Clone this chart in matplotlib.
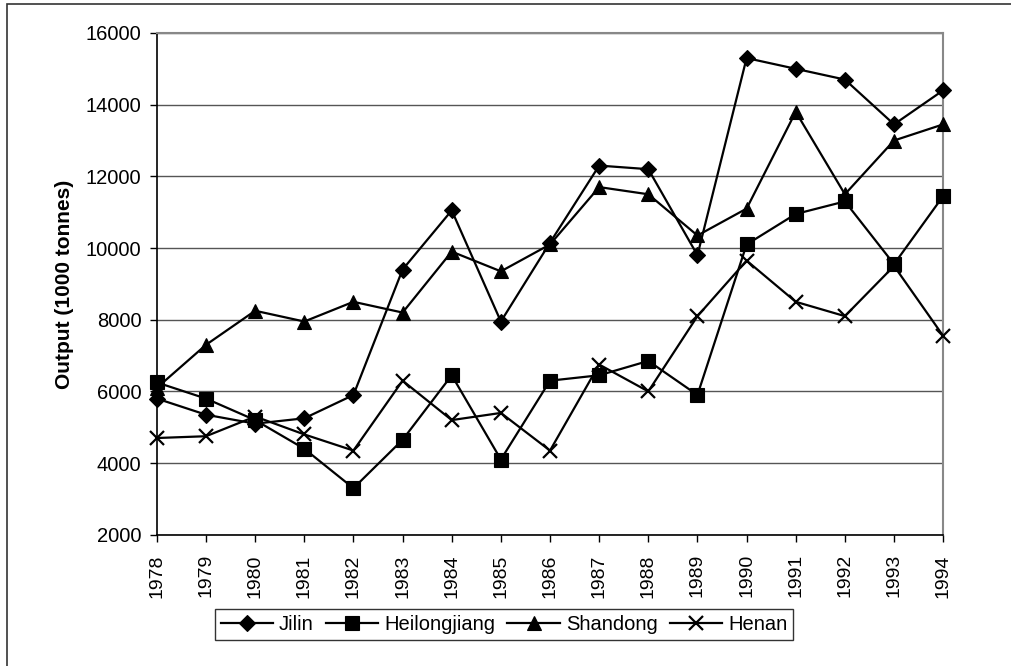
from matplotlib import pyplot as plt
from matplotlib.patches import Rectangle

plt.rcParams['font.family'] = ['Liberation Sans', 'DejaVu Sans']

years = list(range(1978, 1995))
jilin = [5800, 5350, 5100, 5250, 5900, 9400, 11050, 7950, 10150,
         12300, 12200, 9800, 15300, 15000, 14700, 13450, 14400]
heilongjiang = [6250, 5800, 5200, 4400, 3300, 4650, 6450, 4100, 6300,
                6450, 6850, 5900, 10100, 10950, 11300, 9550, 11450]
shandong = [6100, 7300, 8250, 7950, 8500, 8200, 9900, 9350, 10100,
            11700, 11500, 10350, 11100, 13800, 11500, 13000, 13450]
henan = [4700, 4750, 5300, 4800, 4350, 6300, 5200, 5400, 4350,
         6750, 6000, 8100, 9650, 8500, 8100, 9500, 7550]

fig = plt.figure(figsize=(10.12, 6.66), dpi=100)
ax = fig.add_axes([0.155, 0.197, 0.777, 0.7535])

# outer chart border (clipped on right/bottom like the original)
fig.patches.append(Rectangle((7 / 1012, -0.1), 1.2, (666 - 4) / 666 + 0.1,
                             transform=fig.transFigure, fill=False,
                             edgecolor='#333333', linewidth=1.2))

series = [
    (jilin, 'Jilin', 'D', 8),
    (heilongjiang, 'Heilongjiang', 's', 10),
    (shandong, 'Shandong', '^', 10),
    (henan, 'Henan', 'x', 10),
]
for vals, name, mk, ms in series:
    ax.plot(years, vals, color='black', linewidth=1.6, marker=mk,
            markersize=ms, markeredgewidth=1.6 if mk == 'x' else 0.8,
            label=name, clip_on=False, zorder=3)

ax.set_xlim(1978, 1994)
ax.set_ylim(2000, 16000)
ax.set_xticks(years)
ax.set_xticklabels([str(y) for y in years], rotation=90, fontsize=14)
ax.set_yticks(range(2000, 16001, 2000))
ax.tick_params(axis='y', labelsize=14.5, direction='out', length=5, width=1, pad=6)
ax.tick_params(axis='x', direction='out', length=5, width=1, pad=9)
ax.yaxis.grid(True, color='#555555', linewidth=1)
ax.set_axisbelow(True)

for s in ['top', 'right']:
    ax.spines[s].set_color('#888888')
    ax.spines[s].set_linewidth(1.5)
for s in ['left', 'bottom']:
    ax.spines[s].set_color('black')
    ax.spines[s].set_linewidth(1.2)

ax.set_ylabel('Output (1000 tonnes)', fontsize=15, fontweight='bold')
ax.yaxis.set_label_coords(-0.106, 0.5)

leg = fig.legend(loc='center', bbox_to_anchor=(0.498, 0.0625), ncol=4,
                 fontsize=14.5, frameon=True, fancybox=False, handlelength=2.6,
                 columnspacing=0.6, handletextpad=0.3, borderpad=0.3)
leg.get_frame().set_edgecolor('black')
leg.get_frame().set_linewidth(1)

fig.savefig('out.png', dpi=100)
